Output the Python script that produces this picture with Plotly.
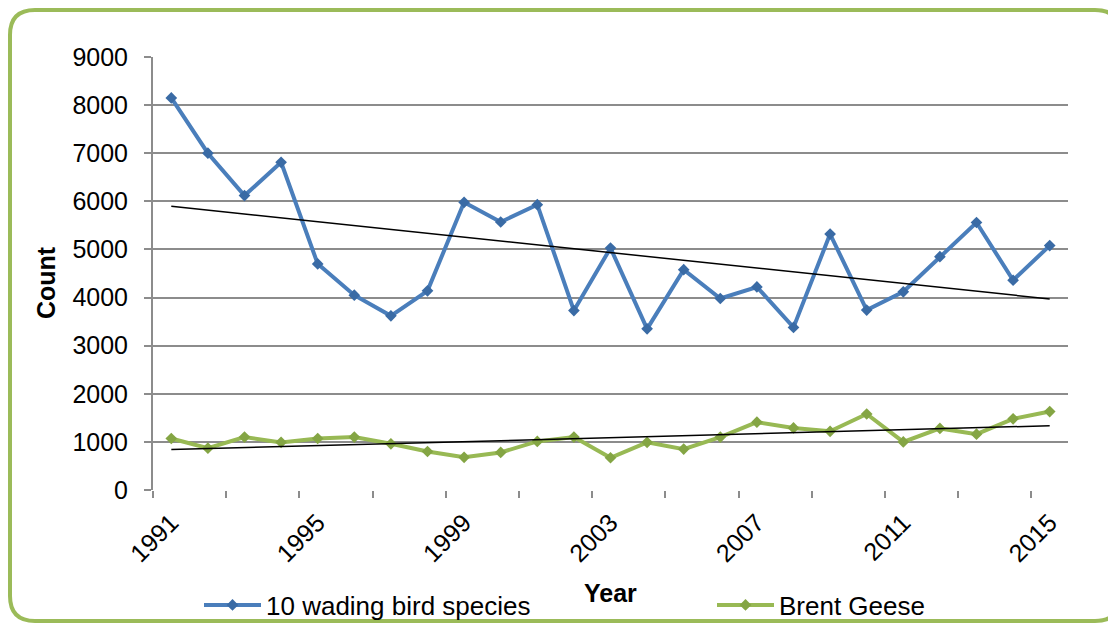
import numpy as np
import plotly.graph_objects as go

# Annual counts, 1991-2015
years = list(range(1991, 2016))
wader_counts = [8150, 7000, 6120, 6810, 4700, 4050, 3620, 4140, 5980, 5570,
                5930, 3730, 5030, 3350, 4580, 3980, 4220, 3380, 5320, 3740,
                4120, 4850, 5560, 4360, 5080]
brent_counts = [1070, 870, 1100, 990, 1070, 1100, 960, 800, 680, 780,
                1010, 1100, 670, 990, 850, 1100, 1410, 1290, 1220, 1580,
                1000, 1280, 1160, 1480, 1630]
label_years = [1991, 1995, 1999, 2003, 2007, 2011, 2015]
y_ticks = list(range(0, 10000, 1000))

W, H = 1108, 624
ML, MR, MT, MB = 153, 40, 57, 134
PW, PH = W - ML - MR, H - MT - MB

FONT = "Liberation Sans, Arial, sans-serif"
BLUE, BLUE_MK = "#4A7EBB", "#3A6BA5"
GREEN, GREEN_MK = "#98B954", "#84A544"
GRID = "#8C8C8C"


def px_x(px):
    return (px - ML) / PW


def px_y(py):
    return (H - MB - py) / PH


def trend(values):
    slope, icpt = np.polyfit(years, values, 1)
    ends = [years[0], years[-1]]
    return ends, [slope * e + icpt for e in ends]


fig = go.Figure()

fig.add_trace(go.Scatter(
    x=years, y=wader_counts, mode="lines+markers", name="10 wading bird species",
    line=dict(color=BLUE, width=4), legend="legend",
    marker=dict(symbol="diamond", size=9, color=BLUE_MK),
))
fig.add_trace(go.Scatter(
    x=years, y=brent_counts, mode="lines+markers", name="Brent Geese",
    line=dict(color=GREEN, width=4), legend="legend2",
    marker=dict(symbol="diamond", size=9, color=GREEN_MK),
))

# Linear trend lines
for vals in (wader_counts, brent_counts):
    tx, ty = trend(vals)
    fig.add_trace(go.Scatter(x=tx, y=ty, mode="lines", showlegend=False,
                             hoverinfo="skip",
                             line=dict(color="black", width=1.5)))

# Rounded green frame around the chart
x0, x1 = px_x(10), px_x(1120)
yt, yb = px_y(10), px_y(621)
rx, ry = 25 / PW, 25 / PH
frame = (f"M {x0+rx},{yt} L {x1-rx},{yt} Q {x1},{yt} {x1},{yt-ry} "
         f"L {x1},{yb+ry} Q {x1},{yb} {x1-rx},{yb} "
         f"L {x0+rx},{yb} Q {x0},{yb} {x0},{yb+ry} "
         f"L {x0},{yt-ry} Q {x0},{yt} {x0+rx},{yt} Z")

legend_style = dict(orientation="h", xanchor="left", yanchor="middle",
                    font=dict(size=26), bgcolor="rgba(0,0,0,0)",
                    itemwidth=57)

fig.update_layout(
    width=W, height=H,
    margin=dict(l=ML, r=MR, t=MT, b=MB, autoexpand=False),
    paper_bgcolor="white", plot_bgcolor="white",
    font=dict(family=FONT, size=25, color="black"),
    shapes=[dict(type="path", path=frame, xref="paper", yref="paper",
                 line=dict(color="#9BBB59", width=4), layer="below")],
    xaxis=dict(
        range=[1990.5, 2015.5], tickmode="array", tickvals=label_years,
        ticktext=[str(y) for y in label_years], tickangle=-45,
        ticks="", showgrid=False, zeroline=False,
        showline=False, ticklabelstandoff=12,
        tickfont=dict(size=25),
        minor=dict(tickmode="array",
                   tickvals=[1990.5 + 2 * k for k in range(13)],
                   ticks="outside", ticklen=7, tickwidth=2,
                   tickcolor=GRID, showgrid=False),
    ),
    yaxis=dict(
        range=[0, 9000], tickmode="array", tickvals=y_ticks,
        ticks="outside", ticklen=7, tickwidth=2, tickcolor=GRID,
        showgrid=True, gridcolor=GRID, gridwidth=2,
        showline=True, linecolor=GRID, linewidth=2,
        zeroline=False, tickfont=dict(size=25), ticklabelstandoff=11,
    ),
    legend=dict(x=px_x(199), y=px_y(605), **legend_style),
    legend2=dict(x=px_x(712), y=px_y(605), **legend_style),
    annotations=[
        dict(text="<b>Count</b>", textangle=-90, xref="paper", yref="paper",
             x=px_x(46), y=px_y(283), showarrow=False,
             font=dict(size=25), xanchor="center", yanchor="middle"),
        dict(text="<b>Year</b>", xref="paper", yref="paper",
             x=px_x(610), y=px_y(593), showarrow=False,
             font=dict(size=25), xanchor="center", yanchor="middle"),
    ],
)

fig.write_html("out.html")
